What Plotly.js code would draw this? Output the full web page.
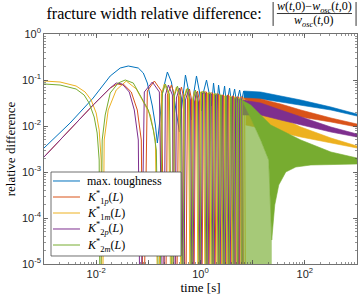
<!DOCTYPE html>
<html><head><meta charset="utf-8">
<script src="https://cdn.plot.ly/plotly-3.0.1.min.js"></script>
<style>html,body{margin:0;padding:0;background:#fff}#chart{width:360px;height:302px}</style>
</head><body><div id="chart"></div>
<script>
// ---- data ----
const seriesNames = ['max. toughness',
  '<i>K</i><sup>*</sup><sub>1<i>p</i></sub>(<i>L</i>)',
  '<i>K</i><sup>*</sup><sub>1<i>m</i></sub>(<i>L</i>)',
  '<i>K</i><sup>*</sup><sub>2<i>p</i></sub>(<i>L</i>)',
  '<i>K</i><sup>*</sup><sub>2<i>m</i></sub>(<i>L</i>)'];

const blueT = [0.001,0.003162,0.008756,0.018588,0.028942,0.041246,0.064223,0.080139,0.095669,0.11938,0.13634,0.14896,0.16276,0.18588,0.23194,0.27689,0.31623,0.39459,0.43115,0.5147,0.58781,0.67129,0.73347,0.83769,0.95669,1.0453,1.1421,1.3043,1.4896,1.6276,1.7783,2.0309,2.219,2.5342,2.8942,3.1623,3.6117,3.9459,4.5066,4.9237,5.6234,6.144,6.7129,7.3347];
const blueV = [0.003325,0.01162,0.04061,0.1222,0.1823,0.2015,0.1823,0.142,0.08606,0.02721,0.01051,0.00427,0.01051,0.05217,0.14925,0.09047,0.03675,0.007406,0.02228,0.12844,0.06062,0.0135,0.0472,0.1222,0.05484,0.02119,0.05484,0.1,0.0472,0.02721,0.08606,0.02228,0.07786,0.02462,0.07406,0.02721,0.0670,0.03008,0.06373,0.03162,0.06062,0.03495,0.05766,0.03675];
const blueBandT = [6.7129,14.251,34.551,83.769,316.23,1000];
const blueBandHi = [0.05766,0.05484,0.04489,0.03675,0.02588,0.01823];
const blueBandLo = [0.03675,0.03863,0.03325,0.02861,0.02228,0.0165];

const orangeT = [0.001,0.0041246,0.008756,0.018588,0.025342,0.034551,0.047106,0.06144,0.073347,0.080139,
  0.095669,0.13043,0.17783,0.21228, 0.23194,0.27689,0.31623,0.34551, 0.37751,0.43115,0.47106,0.5147,
  0.56234,0.6144,0.67129,0.73347, 0.80139,0.8756,0.95669,1.0453, 1.1421,1.3043,1.4251, 1.557,1.7012,1.8588,
  2.0309,2.219,2.4245, 2.649,2.7689,3.0253, 3.3055,3.4551,3.7751, 4.1246,4.3115,4.7106, 4.9237,5.3797,5.6234,
  5.878,6.4223,6.7129];
const orangeV = [0.002119,0.01162,0.02861,0.0670,0.08185,0.07786,0.05484,0.02228,0.004962,1e-7,
  0.05766,0.09512,0.05766,1e-7, 0.0472,0.07786,0.0472,1e-7, 0.0427,0.07044,0.0427,1e-7,
  0.03863,0.06373,0.03863,1e-7, 0.03495,0.05766,0.03495,1e-7, 0.05484,0.05484,1e-7, 0.05217,0.05217,1e-7,
  0.04962,0.04962,1e-7, 0.0472,0.0472,1e-7, 0.0472,0.0472,1e-7, 0.04489,0.04489,1e-7, 0.0427,0.0427,1e-7,
  0.0427,0.0427,1e-7];
const orangeBandT = [6.7129,14.251,34.551,83.769,316.23,1000];
const orangeBandHi = [0.04061,0.03863,0.03008,0.02228,0.01493,0.01105];
const orangeBandLo = [0.02228,0.02462,0.02015,0.01569,0.01222,0.009512];

const yellowT = [0.001,0.0020309,0.0041246,0.006144,0.0080139,0.01,0.011421,0.012478,0.013043,
  0.014251,0.017012,0.024245,0.037751,0.058781,0.080139,0.10926,0.13634,0.1557,
  0.17783,0.20309,0.24245,0.27689, 0.30253,0.34551,0.39459,0.43115, 0.47106,0.53797,0.58781,0.64223,
  0.70171,0.7667,0.83769,0.91523, 1,1.1421,1.2478, 1.3634,1.4896,1.6276, 1.7783,1.9429,2.1228,
  2.3194,2.4245,2.649, 2.8942,3.0253,3.3055, 3.6117,3.7751,4.1246, 4.5066,4.7106,5.147,
  5.3797,5.878,6.144, 6.4223,7.0171,7.3347];
const yellowV = [0.09512,0.09048,0.07406,0.05484,0.03675,0.01917,0.008185,0.001823,1e-7,
  0.004962,0.02228,0.06062,0.09512,0.06373,0.03325,0.01734,0.004962,1e-7,
  0.04962,0.08185,0.04962,1e-7, 0.0427,0.07044,0.0427,1e-7, 0.03863,0.06373,0.03863,1e-7,
  0.03495,0.05766,0.03495,1e-7, 0.05484,0.05484,1e-7, 0.05217,0.05217,1e-7, 0.04962,0.04962,1e-7,
  0.0472,0.0472,1e-7, 0.04489,0.04489,1e-7, 0.04489,0.04489,1e-7, 0.0427,0.0427,1e-7,
  0.04061,0.04061,1e-7, 0.03863,0.03863,1e-7];
const yellowBandT = [7.3347,22.19,83.769,316.23,1000];
const yellowBandHi = [0.03675,0.01917,0.009512,0.005484,0.003675];
const yellowBandLo = [0.01051,0.008185,0.005766,0.00427,0.003325];

const purpleT = [0.001,0.0041246,0.008756,0.018588,0.024245,0.031623,0.043115,0.053797,0.064223,0.070171,
  0.083769,0.11938,0.16276,0.19429, 0.21228,0.24245,0.28942,0.31623, 0.34551,0.39459,0.43115,0.47106,
  0.5147,0.58781,0.64223,0.70171, 0.7667,0.83769,0.91523,1, 1.0926,1.2478,1.3634, 1.4896,1.6276,1.7783,
  1.9429,2.1228,2.3194, 2.5342,2.649,2.8942, 3.1623,3.3055,3.6117, 3.9459,4.1246,4.5066, 4.7106,5.147,5.3797,
  5.6234,6.144,6.4223];
const purpleV = [0.002119,0.01162,0.02861,0.0670,0.08606,0.08185,0.05484,0.02228,0.004962,1e-7,
  0.05484,0.09048,0.05484,1e-7, 0.0472,0.07786,0.0472,1e-7, 0.04061,0.0670,0.04061,1e-7,
  0.03675,0.06062,0.03675,1e-7, 0.03325,0.05484,0.03325,1e-7, 0.05217,0.05217,1e-7, 0.04962,0.04962,1e-7,
  0.0472,0.0472,1e-7, 0.04489,0.04489,1e-7, 0.04489,0.04489,1e-7, 0.0427,0.0427,1e-7, 0.04061,0.04061,1e-7,
  0.03863,0.03863,1e-7];
const purpleBandT = [6.4223,14.251,34.551,83.769,316.23,1000];
const purpleBandHi = [0.03675,0.03162,0.02228,0.01569,0.009512,0.0067];
const purpleBandLo = [0.01734,0.01734,0.0135,0.01051,0.007406,0.005766];

const greenT = [0.001,0.0020309,0.0041246,0.005878,0.0073347,0.0091523,0.010453,0.011421,0.011938,
  0.013043,0.014896,0.018588,0.02649,0.036117,0.05147,0.073347,0.1,0.12478,0.14251,0.16276,
  0.18588,0.21228,0.25342,0.28942, 0.31623,0.36117,0.41246,0.45066, 0.49237,0.56234,0.6144,0.67129,
  0.73347,0.80139,0.8756,0.95669, 1.0453,1.1938,1.3043, 1.4251,1.557,1.7012, 1.8588,2.0309,2.219,
  2.4245,2.5342,2.7689, 3.0253,3.1623,3.4551, 3.7751,3.9459,4.3115, 4.5066,4.9237,5.147,
  5.3797,5.878,6.144];
const greenV = [0.08185,0.07786,0.06373,0.0472,0.03162,0.01569,0.007044,0.001823,1e-7,
  0.004962,0.01734,0.05217,0.08606,0.1,0.08606,0.04061,0.02228,0.008185,0.003008,1e-7,
  0.04962,0.08185,0.04962,1e-7, 0.04489,0.07406,0.04489,1e-7, 0.04061,0.0670,0.04061,1e-7,
  0.03675,0.06062,0.03675,1e-7, 0.05484,0.05484,1e-7, 0.05217,0.05217,1e-7, 0.04962,0.04962,1e-7,
  0.0472,0.0472,1e-7, 0.04489,0.04489,1e-7, 0.0427,0.0427,1e-7, 0.04061,0.04061,1e-7,
  0.03863,0.03863,1e-7];
// dense green band: upper edge, lower edge of the solid part, and the faint region under it
const greenBandHiT = [6.144,9.1523,22.19,83.769,316.23,1000];
const greenBandHi = [0.03675,0.02861,0.01051,0.004962,0.002721,0.002015];
const greenBandLoT = [6.144,9.1523,14.251,20.309,23.194,26.49,31.623,43.115,67.129,130.43,1000];
const greenBandLo = [0.03675,0.01493,0.004962,0.001823,3.32e-5,1.92e-4,5.22e-4,0.001,0.001284,0.00142,0.001492];
const greenFaintT = [6.144,9.1523,14.251,20.309,23.194,23.194,6.144];
const greenFaintV = [0.03675,0.01493,0.004962,0.001823,3.32e-5,1e-7,1e-7];

const xTickVals = [1e-3,1e-2,1e-1,1,10,100,1000];
const xTickText = ['','10<sup>-2</sup>','','10<sup>0</sup>','','10<sup>2</sup>',''];
const yTickVals = [1e-5,1e-4,1e-3,1e-2,1e-1,1];
const yTickText = ['10<sup>-5</sup>','10<sup>-4</sup>','10<sup>-3</sup>','10<sup>-2</sup>','10<sup>-1</sup>','10<sup>0</sup>'];

// ---- styles ----
const COLORS = ['#0072BD','#D95319','#EDB120','#7E2F8E','#77AC30'];
const SERIF = 'Liberation Serif, Times New Roman, serif';
const SANS = 'Liberation Sans, Arial, sans-serif';
const AX = '#4d4d4d';

function mainTrace(i, x, y){
  return {type:'scatter', mode:'lines', name:seriesNames[i], x:x, y:y,
    line:{color:COLORS[i], width:1}, hoverinfo:'skip', showlegend:false};
}
function band(i, xh, yh, xl, yl){
  return [
    {type:'scatter', mode:'lines', x:xh, y:yh, line:{color:COLORS[i], width:0.6}, showlegend:false, hoverinfo:'skip'},
    {type:'scatter', mode:'lines', x:xl, y:yl, line:{color:COLORS[i], width:0.6}, fill:'tonexty', fillcolor:COLORS[i], showlegend:false, hoverinfo:'skip'}
  ];
}

const data = [
  mainTrace(0, blueT, blueV), ...band(0, blueBandT, blueBandHi, blueBandT, blueBandLo),
  mainTrace(1, orangeT, orangeV), ...band(1, orangeBandT, orangeBandHi, orangeBandT, orangeBandLo),
  mainTrace(2, yellowT, yellowV), ...band(2, yellowBandT, yellowBandHi, yellowBandT, yellowBandLo),
  mainTrace(3, purpleT, purpleV), ...band(3, purpleBandT, purpleBandHi, purpleBandT, purpleBandLo),
  mainTrace(4, greenT, greenV),
  {type:'scatter', mode:'lines', x:greenFaintT, y:greenFaintV, line:{width:0}, fill:'toself', fillcolor:'rgba(119,172,48,0.65)', showlegend:false, hoverinfo:'skip'},
  ...band(4, greenBandHiT, greenBandHi, greenBandLoT, greenBandLo)
];

function axisBase(){
  return {type:'log', ticks:'inside', ticklen:4, tickcolor:AX, tickwidth:0.8,
    showline:true, linecolor:AX, linewidth:0.8, mirror:'ticks', showgrid:false, zeroline:false,
    tickfont:{family:SANS, size:11, color:'#262626'}, tickmode:'array',
    minor:{ticks:'inside', ticklen:2, tickcolor:AX, tickwidth:0.6, tickmode:'linear', dtick:'D1', showgrid:false}};
}
const xaxis = Object.assign(axisBase(), {range:[-3,3], tickvals:xTickVals, ticktext:xTickText,
  title:{text:'time [s]', font:{family:SERIF, size:13, color:'#000'}, standoff:3}});
const yaxis = Object.assign(axisBase(), {range:[-5,0], tickvals:yTickVals, ticktext:yTickText,
  title:{text:'relative difference', font:{family:SERIF, size:13, color:'#000'}, standoff:3}});

const numText = '<i>w</i>(<i>t</i>,0)−<i>w</i><sub><i>osc</i></sub>(<i>t</i>,0)';
const denText = '<i>w</i><sub><i>osc</i></sub>(<i>t</i>,0)';

// legend (drawn as boxed text rows in plot-area fractions)
const legX0 = 0.0224, legX1 = 0.4377, legY0 = 0.0348, legY1 = 0.4;
const legRowY = [0.3609, 0.2913, 0.2217, 0.1522, 0.0826];
const legendShapes = [{type:'rect', xref:'paper', yref:'paper', x0:legX0, x1:legX1, y0:legY0, y1:legY1,
  line:{color:AX, width:0.8}, fillcolor:'#fff', layer:'above'}];
const legendAnn = [];
seriesNames.forEach((nm, i) => {
  legendShapes.push({type:'line', xref:'paper', yref:'paper', x0:0.0288, x1:0.115, y0:legRowY[i], y1:legRowY[i],
    line:{color:COLORS[i], width:1}, layer:'above'});
  legendAnn.push({xref:'paper', yref:'paper', x:0.131, y:legRowY[i], text:nm, showarrow:false,
    xanchor:'left', yanchor:'middle', font:{family:SERIF, size:12, color:'#000'}});
});

const layout = {
  width:360, height:302, margin:{l:44, r:3, t:34, b:38},
  paper_bgcolor:'#fff', plot_bgcolor:'#fff',
  title:{text:'fracture width relative difference:', font:{family:SERIF, size:16, color:'#000'},
    xref:'container', yref:'container', x:0.428, xanchor:'center', y:0.957, yanchor:'middle'},
  xaxis:xaxis, yaxis:yaxis,
  showlegend:false,
  annotations:[
    {xref:'paper', yref:'paper', x:0.863, y:1.119, text:numText, showarrow:false, font:{family:SERIF, size:12, color:'#000'}, xanchor:'center', yanchor:'middle'},
    {xref:'paper', yref:'paper', x:0.863, y:1.057, text:denText, showarrow:false, font:{family:SERIF, size:12, color:'#000'}, xanchor:'center', yanchor:'middle'}
  ].concat(legendAnn),
  shapes:[
    {type:'line', xref:'paper', yref:'paper', x0:0.744, x1:0.984, y0:1.089, y1:1.089, line:{color:'#000', width:0.8}},
    {type:'line', xref:'paper', yref:'paper', x0:0.732, x1:0.732, y0:1.035, y1:1.139, line:{color:'#000', width:0.8}},
    {type:'line', xref:'paper', yref:'paper', x0:0.997, x1:0.997, y0:1.035, y1:1.139, line:{color:'#000', width:0.8}}
  ].concat(legendShapes)
};

Plotly.newPlot('chart', data, layout, {displayModeBar:false, staticPlot:true});
</script></body></html>
